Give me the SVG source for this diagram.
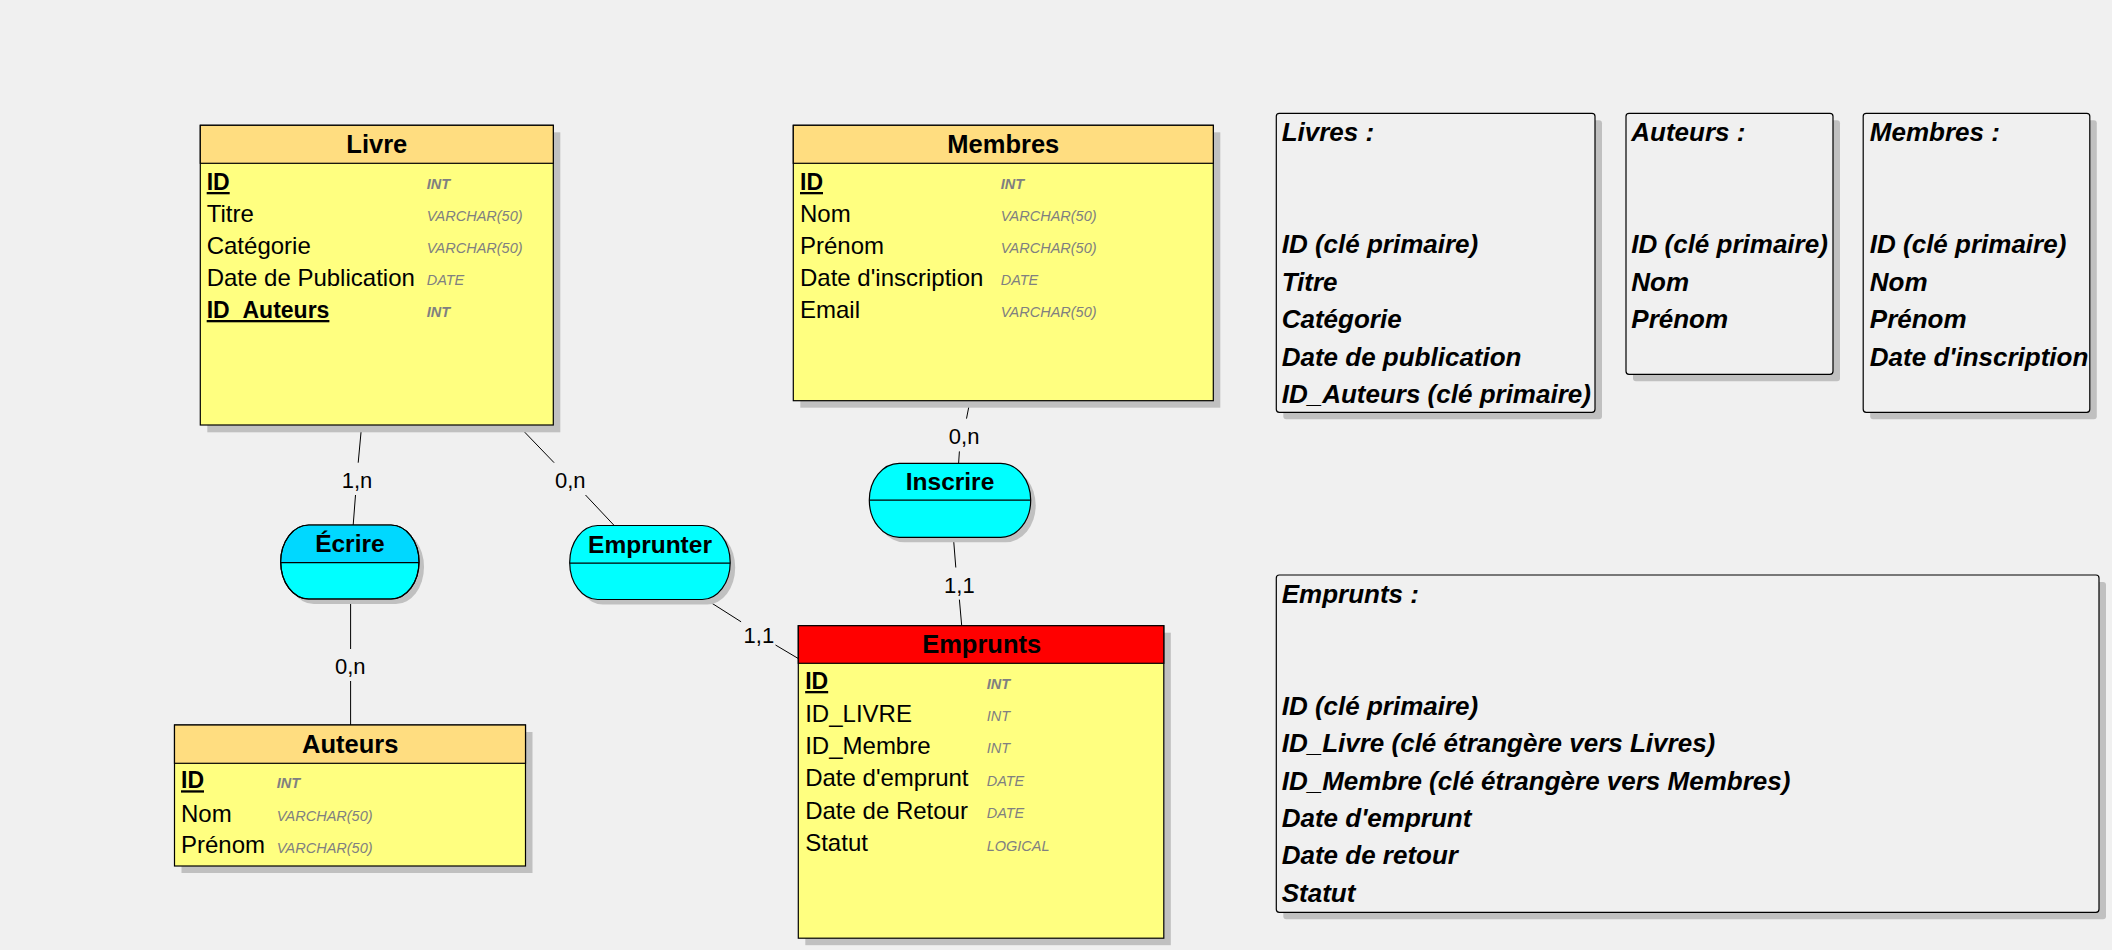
<svg xmlns="http://www.w3.org/2000/svg" width="2112" height="950" viewBox="0 0 2112 950">
  <style>
    .bg { fill: #F0F0F0; }
    .shadow { fill: #C0C0C0; }
    .body { fill: #FFFF80; stroke: #000; stroke-width: 1.2; }
    .head { fill: #FFDD80; stroke: #000; stroke-width: 1.2; }
    .head-red { fill: #FF0000; stroke: #000; stroke-width: 1.2; }
    .rel { fill: #00FFFF; stroke: #000; stroke-width: 1.2; }
    .rel-top-sel { fill: #00D8FF; }
    .div { stroke: #000; stroke-width: 1.2; }
    .title { font-family: "Liberation Sans", Arial, sans-serif; font-weight: bold; text-anchor: middle; fill: #000; font-size: 25.5px; }
    .rtitle { font-family: "Liberation Sans", Arial, sans-serif; font-weight: bold; text-anchor: middle; fill: #000; font-size: 24.5px; }
    .attr { font-family: "Liberation Sans", Arial, sans-serif; fill: #000; font-size: 24px; }
    .key { font-weight: bold; text-decoration: underline; font-size: 23px; }
    .type { font-family: "Liberation Sans", Arial, sans-serif; font-style: italic; fill: #808080; font-size: 14.5px; }
    .type-key { font-weight: bold; }
    .card { font-family: "Liberation Sans", Arial, sans-serif; font-size: 22px; text-anchor: middle; fill: #000; }
    .link { stroke: #000; stroke-width: 1; fill: none; }
    .note { fill: #F0F0F0; stroke: #000; stroke-width: 1.2; }
    .ntext { font-family: "Liberation Sans", Arial, sans-serif; font-weight: bold; font-style: italic; font-size: 26px; fill: #000; }
  </style>

  <rect class="bg" x="0" y="0" width="2112" height="950"/>

  <!-- links between entities and associations, split around cardinality labels -->
  <g id="connectors">
    <line class="link" x1="361.7" y1="425" x2="358.2" y2="462.7"/>
    <line class="link" x1="355.5" y1="495" x2="353.2" y2="525"/>
    <text class="card" x="357" y="488.3">1,n</text>

    <line class="link" x1="517.8" y1="425" x2="554.1" y2="462.7"/>
    <line class="link" x1="585.5" y1="495" x2="614.2" y2="525.5"/>
    <text class="card" x="570.2" y="488.3">0,n</text>

    <line class="link" x1="350.6" y1="599" x2="350.6" y2="649"/>
    <line class="link" x1="350.6" y1="681" x2="350.6" y2="725"/>
    <text class="card" x="350.2" y="674">0,n</text>

    <line class="link" x1="703.5" y1="597.9" x2="741.1" y2="621.8"/>
    <line class="link" x1="775.5" y1="645" x2="798.4" y2="658.6"/>
    <text class="card" x="758.9" y="642.5">1,1</text>

    <line class="link" x1="970" y1="400.7" x2="966.5" y2="418.6"/>
    <line class="link" x1="959.4" y1="451.4" x2="958.6" y2="463.3"/>
    <text class="card" x="964.1" y="444.3">0,n</text>

    <line class="link" x1="953.4" y1="537.3" x2="955.8" y2="567.5"/>
    <line class="link" x1="959.4" y1="599.6" x2="961.7" y2="625.7"/>
    <text class="card" x="959.4" y="593.2">1,1</text>
  </g>

  <!-- entity: Livre -->
  <g id="livre">
    <rect class="shadow" x="207.3" y="132.3" width="353" height="300"/>
    <rect class="body" x="200.3" y="125.3" width="353" height="299.7"/>
    <rect class="head" x="200.3" y="125.3" width="353" height="38"/>
    <text class="title" x="376.8" y="153">Livre</text>
    <text class="attr key" x="206.7" y="190">ID</text>
    <text class="attr" x="206.7" y="222">Titre</text>
    <text class="attr" x="206.7" y="254">Catégorie</text>
    <text class="attr" x="206.7" y="286">Date de Publication</text>
    <text class="attr key" x="206.7" y="318">ID_Auteurs</text>
    <text class="type type-key" x="426.7" y="189">INT</text>
    <text class="type" x="426.7" y="221">VARCHAR(50)</text>
    <text class="type" x="426.7" y="253">VARCHAR(50)</text>
    <text class="type" x="426.7" y="285">DATE</text>
    <text class="type type-key" x="426.7" y="317">INT</text>
  </g>

  <!-- entity: Membres -->
  <g id="membres">
    <rect class="shadow" x="800.3" y="132.3" width="420" height="275.4"/>
    <rect class="body" x="793.3" y="125.3" width="420" height="275.4"/>
    <rect class="head" x="793.3" y="125.3" width="420" height="38"/>
    <text class="title" x="1003.3" y="153">Membres</text>
    <text class="attr key" x="800" y="190">ID</text>
    <text class="attr" x="800" y="222">Nom</text>
    <text class="attr" x="800" y="254">Prénom</text>
    <text class="attr" x="800" y="286">Date d'inscription</text>
    <text class="attr" x="800" y="318">Email</text>
    <text class="type type-key" x="1000.7" y="189">INT</text>
    <text class="type" x="1000.7" y="221">VARCHAR(50)</text>
    <text class="type" x="1000.7" y="253">VARCHAR(50)</text>
    <text class="type" x="1000.7" y="285">DATE</text>
    <text class="type" x="1000.7" y="317">VARCHAR(50)</text>
  </g>

  <!-- entity: Auteurs -->
  <g id="auteurs">
    <rect class="shadow" x="181.5" y="732" width="351" height="141"/>
    <rect class="body" x="174.5" y="725" width="351" height="141"/>
    <rect class="head" x="174.5" y="725" width="351" height="38.3"/>
    <text class="title" x="350.2" y="753.3">Auteurs</text>
    <text class="attr key" x="181" y="788.3">ID</text>
    <text class="attr" x="181" y="821.7">Nom</text>
    <text class="attr" x="181" y="853.3">Prénom</text>
    <text class="type type-key" x="276.7" y="787.5">INT</text>
    <text class="type" x="276.7" y="821">VARCHAR(50)</text>
    <text class="type" x="276.7" y="852.5">VARCHAR(50)</text>
  </g>

  <!-- entity: Emprunts -->
  <g id="emprunts">
    <rect class="shadow" x="805.3" y="632.7" width="365.5" height="312.5"/>
    <rect class="body" x="798.3" y="625.7" width="365.5" height="312.5"/>
    <rect class="head-red" x="798.3" y="625.7" width="365.5" height="37.6"/>
    <text class="title" x="981.7" y="652.7">Emprunts</text>
    <text class="attr key" x="805.2" y="689">ID</text>
    <text class="attr" x="805.2" y="721.8">ID_LIVRE</text>
    <text class="attr" x="805.2" y="753.9">ID_Membre</text>
    <text class="attr" x="805.2" y="786.4">Date d'emprunt</text>
    <text class="attr" x="805.2" y="818.6">Date de Retour</text>
    <text class="attr" x="805.2" y="851.4">Statut</text>
    <text class="type type-key" x="986.7" y="688.5">INT</text>
    <text class="type" x="986.7" y="721">INT</text>
    <text class="type" x="986.7" y="753">INT</text>
    <text class="type" x="986.7" y="785.5">DATE</text>
    <text class="type" x="986.7" y="818">DATE</text>
    <text class="type" x="986.7" y="850.5">LOGICAL</text>
  </g>

  <!-- association: Écrire (upper half highlighted) -->
  <g id="ecrire">
    <rect class="shadow" x="285.7" y="530" width="138.3" height="74" rx="28" ry="37"/>
    <rect class="rel" x="280.7" y="525" width="138.3" height="74" rx="28" ry="37"/>
    <path class="rel-top-sel" d="M281.3,562.5 A28,37 0 0 1 308.7,525.6 H391 A28,37 0 0 1 418.4,562.5 Z"/>
    <rect x="280.7" y="525" width="138.3" height="74" rx="28" ry="37" fill="none" stroke="#000" stroke-width="1.2"/>
    <line class="div" x1="280.7" y1="562.7" x2="419" y2="562.7"/>
    <text class="rtitle" x="349.9" y="551.7">Écrire</text>
  </g>

  <!-- association: Emprunter -->
  <g id="emprunter">
    <rect class="shadow" x="574.7" y="530.5" width="160.5" height="74" rx="28" ry="37"/>
    <rect class="rel" x="569.7" y="525.5" width="160.5" height="74" rx="28" ry="37"/>
    <line class="div" x1="569.7" y1="563.2" x2="730.2" y2="563.2"/>
    <text class="rtitle" x="650" y="552.5" font-size="25.5">Emprunter</text>
  </g>

  <!-- association: Inscrire -->
  <g id="inscrire">
    <rect class="shadow" x="874.3" y="468.3" width="161.4" height="74" rx="30" ry="37"/>
    <rect class="rel" x="869.3" y="463.3" width="161.4" height="74" rx="30" ry="37"/>
    <line class="div" x1="869.3" y1="500.2" x2="1030.7" y2="500.2"/>
    <text class="rtitle" x="950" y="490">Inscrire</text>
  </g>

  <!-- note: Livres -->
  <g id="note-livres">
    <rect class="shadow" x="1283.3" y="120.3" width="318.7" height="299" rx="3"/>
    <rect class="note" x="1276.3" y="113.3" width="318.7" height="299" rx="3"/>
    <g class="ntext">
      <text x="1281.7" y="141">Livres :</text>
      <text x="1281.7" y="253.3">ID (clé primaire)</text>
      <text x="1281.7" y="290.7">Titre</text>
      <text x="1281.7" y="328.3">Catégorie</text>
      <text x="1281.7" y="365.7">Date de publication</text>
      <text x="1281.7" y="402.7">ID_Auteurs (clé primaire)</text>
    </g>
  </g>

  <!-- note: Auteurs -->
  <g id="note-auteurs">
    <rect class="shadow" x="1633" y="120.3" width="207" height="261" rx="3"/>
    <rect class="note" x="1626" y="113.3" width="207" height="261" rx="3"/>
    <g class="ntext">
      <text x="1631.3" y="141">Auteurs :</text>
      <text x="1631.3" y="253.3">ID (clé primaire)</text>
      <text x="1631.3" y="290.7">Nom</text>
      <text x="1631.3" y="328.3">Prénom</text>
    </g>
  </g>

  <!-- note: Membres -->
  <g id="note-membres">
    <rect class="shadow" x="1870.2" y="120.3" width="226.6" height="299" rx="3"/>
    <rect class="note" x="1863.2" y="113.3" width="226.6" height="299" rx="3"/>
    <g class="ntext">
      <text x="1869.8" y="141">Membres :</text>
      <text x="1869.8" y="253.3">ID (clé primaire)</text>
      <text x="1869.8" y="290.7">Nom</text>
      <text x="1869.8" y="328.3">Prénom</text>
      <text x="1869.8" y="365.7">Date d'inscription</text>
    </g>
  </g>

  <!-- note: Emprunts -->
  <g id="note-emprunts">
    <rect class="shadow" x="1283.3" y="582" width="822.7" height="337.3" rx="3"/>
    <rect class="note" x="1276.3" y="575" width="822.7" height="337.3" rx="3"/>
    <g class="ntext">
      <text x="1281.7" y="603">Emprunts :</text>
      <text x="1281.7" y="715">ID (clé primaire)</text>
      <text x="1281.7" y="752.3">ID_Livre (clé étrangère vers Livres)</text>
      <text x="1281.7" y="789.6">ID_Membre (clé étrangère vers Membres)</text>
      <text x="1281.7" y="827">Date d'emprunt</text>
      <text x="1281.7" y="864.3">Date de retour</text>
      <text x="1281.7" y="901.6">Statut</text>
    </g>
  </g>
</svg>
